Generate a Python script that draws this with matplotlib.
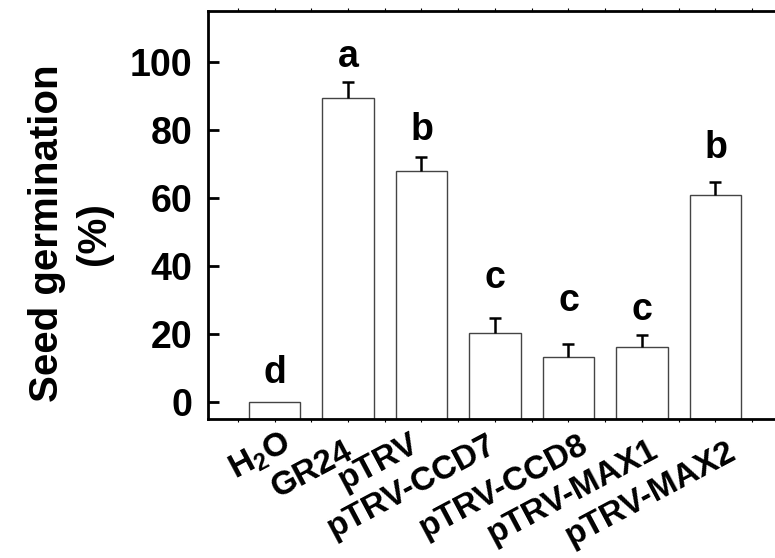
import numpy as np
import matplotlib
matplotlib.use('Agg')
import matplotlib.pyplot as plt
from matplotlib.ticker import FixedLocator, MultipleLocator
from matplotlib.transforms import ScaledTranslation

plt.rcParams['font.family'] = ['Liberation Sans', 'DejaVu Sans']
plt.rcParams['font.weight'] = 'bold'
plt.rcParams['mathtext.fontset'] = 'custom'
plt.rcParams['mathtext.rm'] = 'Liberation Sans:bold'
plt.rcParams['mathtext.bf'] = 'Liberation Sans:bold'

# data
groups = ['H$_2$O', 'GR24', 'pTRV', 'pTRV-CCD7', 'pTRV-CCD8', 'pTRV-MAX1', 'pTRV-MAX2']
germination = [0.0, 89.5, 67.9, 20.2, 13.2, 16.1, 60.8]
sem = [0.0, 4.6, 4.2, 4.5, 3.9, 3.6, 3.9]
letters = ['d', 'a', 'b', 'c', 'c', 'c', 'b']
letter_y = [3.2, 96.3, 74.8, 31.1, 24.4, 21.9, 69.3]

ymin, ymax = -5, 115

# hand placement of the slanted tick labels (pixels right of tick / below axis)
label_dx = [6, -5, -12, -8, 10, 7, 11]
label_dy = [8, 17, 9, 10, 10, 15, 17]

fig = plt.figure(figsize=(7.75, 5.58), dpi=100)
ax = fig.add_axes([208 / 775, 139 / 558, 567 / 775, 408 / 558])

x = np.arange(len(groups))
vals = np.array(germination)
err = np.array(sem)
ax.bar(x, vals - ymin, bottom=ymin, width=0.7, color='white',
       edgecolor='#444444', linewidth=1.0, zorder=2)

# one-sided (upper) error bars
has_err = err > 0
ax.vlines(x[has_err], vals[has_err], vals[has_err] + err[has_err],
          color='black', linewidth=1.8, zorder=3)
ax.plot(x[has_err], vals[has_err] + err[has_err], ls='none', marker='_',
        markersize=9, markeredgewidth=1.8, color='black', zorder=3)

for xi, lab, ly in zip(x, letters, letter_y):
    ax.text(xi, ly, lab, ha='center', va='bottom', fontsize=27, fontweight='bold')

ax.set_xlim(-0.905, 6.81)
ax.set_ylim(ymin, ymax)

ax.yaxis.set_major_locator(FixedLocator([0, 20, 40, 60, 80, 100]))
ax.tick_params(axis='y', direction='in', length=8, width=2, labelsize=27, pad=11)
ax.set_xticks(x)
ax.xaxis.set_minor_locator(MultipleLocator(0.5))
ax.tick_params(axis='x', which='both', direction='out', length=2, width=0.8,
               top=True, labelsize=24, pad=0)
ax.tick_params(axis='x', which='both', labeltop=False)
ax.set_xticklabels(groups, rotation=28, ha='right', va='top', rotation_mode='anchor')
for lab, dx, dy in zip(ax.get_xticklabels(), label_dx, label_dy):
    lab.set_transform(lab.get_transform() +
                      ScaledTranslation(dx / 100, -(dy - 3) / 100, fig.dpi_scale_trans))

for s in ['left', 'bottom', 'top']:
    ax.spines[s].set_linewidth(2)
ax.spines['right'].set_visible(False)

ax.set_ylabel('Seed germination\n(%)', fontsize=29, fontweight='bold', linespacing=1.3)
ax.yaxis.set_label_coords(-0.167, 0.455)

fig.savefig('out.png', dpi=100)
